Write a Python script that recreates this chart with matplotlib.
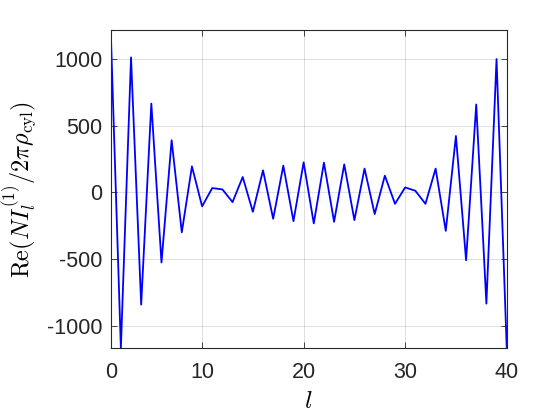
# Re(N I_l^(1) / 2 pi rho_cyl) versus l
import numpy as np
import matplotlib.pyplot as plt

plt.rcParams['mathtext.fontset'] = 'cm'
plt.rcParams['font.family'] = ['Liberation Sans', 'DejaVu Sans']

# sample index along the curve (1..40)
l_index = np.arange(1, 41)
re_values = [1218, -1170, 1012, -842, 666, -526, 391, -300, 195, -105,
             32, 22, -73, 115, -146, 165, -198, 200, -216, 225,
             -233, 223, -221, 210, -208, 178, -163, 125, -86, 37,
             12, -86, 178, -289, 423, -509, 659, -835, 1000, -1160]
tick_pos = [1, 10, 20, 30, 40]
tick_labels = ["0", "10", "20", "30", "40"]
ytick_pos = [-1000, -500, 0, 500, 1000]

fig = plt.figure(figsize=(5.6, 4.2), dpi=100)
ax = fig.add_axes([0.1977, 0.1707, 0.7071, 0.7579])

ax.plot(l_index, re_values, color=(0, 0, 1), linewidth=1.3)

ax.set_xlim(1, 40)
ax.set_ylim(min(re_values), max(re_values))
ax.set_xticks(tick_pos)
ax.set_xticklabels(tick_labels)
ax.set_yticks(ytick_pos)
ax.set_yticklabels([str(v) for v in ytick_pos])

ax.grid(True, color='black', alpha=0.15, linewidth=0.6)
ax.tick_params(direction='in', length=4, width=0.6, top=True, right=True,
               labelsize=15.5, colors='#262626', pad=6)
ax.tick_params(axis='x', pad=10)
for s in ax.spines.values():
    s.set_color('#262626')
    s.set_linewidth(0.8)

ax.set_xlabel(r'$l$', fontsize=18, labelpad=4)
ax.set_ylabel(r'$\mathrm{Re}(N I_l^{(1)}/2\pi\rho_{\mathrm{cyl}})$', fontsize=17.5)
ax.yaxis.set_label_coords(-0.182, 0.5)

fig.savefig('out.png', dpi=100)
